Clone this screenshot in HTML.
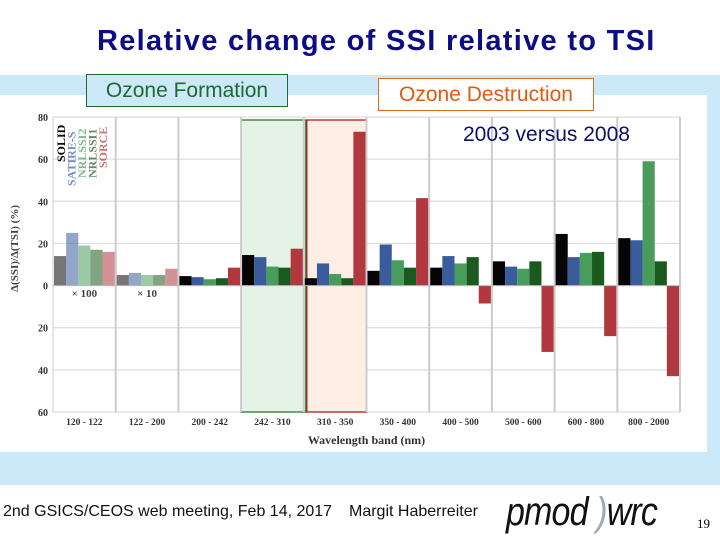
<!DOCTYPE html>
<html><head><meta charset="utf-8"><style>
body{margin:0;width:720px;height:540px;background:#fff;position:relative;overflow:hidden;font-family:"Liberation Sans",sans-serif}
.abs{position:absolute}
</style></head><body>
<div class="abs" style="left:0;top:75px;width:720px;height:410px;background:#cce9fa"></div>
<div class="abs" style="left:97px;top:25px;white-space:nowrap;font-size:29px;letter-spacing:1.3px;font-weight:bold;color:#0c0c84">Relative change of SSI relative to TSI</div>
<svg class="abs" style="left:0;top:0" width="720" height="540" id="chart"></svg>
<div class="abs" style="left:86px;top:74px;width:200px;height:31px;border:1px solid #1f6a2a;background:#cce9fa;color:#1f6a2a;font-size:21px;text-align:center;line-height:31px">Ozone Formation</div>
<div class="abs" style="left:378px;top:78px;width:214px;height:31px;border:1px solid #e06a20;background:#fff;color:#e05a10;font-size:21px;text-align:center;line-height:31px">Ozone Destruction</div>
<div class="abs" style="left:463px;top:123px;font-size:21px;color:#10106a">2003 versus 2008</div>
<div class="abs" style="left:3px;top:503px;font-size:16px;color:#111">2nd GSICS/CEOS web meeting, Feb 14, 2017</div>
<div class="abs" style="left:349px;top:503px;font-size:16px;color:#111">Margit Haberreiter</div>
<div class="abs" style="left:506px;top:490px;font-size:40px;font-style:italic;color:#111;letter-spacing:-1px;transform:scaleX(0.85);transform-origin:left">pmod <span style="color:#9ab">)</span>wrc</div>
<div class="abs" style="left:697px;top:516px;font-size:13px;font-family:'Liberation Serif',serif">19</div>
<script>
const categories=["120 - 122","122 - 200","200 - 242","242 - 310","310 - 350","350 - 400","400 - 500","500 - 600","600 - 800","800 - 2000"];
const seriesNames=["SOLID","SATIRE-S","NRLSSI2","NRLSSI1","SORCE"];
const solid=[14,5,4.5,14.5,3.5,7,8.5,11.5,24.5,22.5];
const satire=[25,6,4,13.5,10.5,19.5,14,9,13.5,21.5];
const nrl2=[19,5,3,9,5.5,12,10.5,8,15.5,59];
const nrl1=[17,5,3.5,8.5,3.5,8.5,13.5,11.5,16,11.5];
const sorce=[16,8,8.5,17.5,73,41.5,-8.5,-31.5,-24,-43];
const yTicks=[80,60,40,20,0,-20,-40,-60];
const yTickLabels=["80","60","40","20","0","20","40","60"];
const colors=["#050505","#3b5c9c","#4a9c5c","#1b5a1e","#b2383f"];
const NS="http://www.w3.org/2000/svg";
const svg=document.getElementById('chart');
const X0=53,X1=680,Y0=117,Y1=412;
const bw=(X1-X0)/categories.length;
function y(v){return Y0+(80-v)*(Y1-Y0)/140;}
function mk(t,a,p){const e=document.createElementNS(NS,t);for(const k in a)e.setAttribute(k,a[k]);(p||svg).appendChild(e);return e;}
let bg=mk('rect',{x:0,y:95,width:707,height:357,fill:'#fff'});


yTicks.forEach((t,i)=>{
 let g=mk('line',{x1:X0,x2:X1,y1:y(t),y2:y(t),stroke:'#ddd','stroke-width':1.2});
 
 
 let l=mk('text',{x:X0-5,y:y(t)+4,'text-anchor':'end','font-size':10,'font-family':'Liberation Serif, serif','font-weight':'bold',fill:'#333'});
 l.textContent=yTickLabels[i];
 
 
});
let hg=mk('rect',{x:X0+3*bw,y:120,width:bw+2,height:Y1-120,fill:'#e5f3e6',stroke:'#2a7a2e','stroke-width':1.3});


let hr=mk('rect',{x:X0+4*bw+3,y:120,width:bw-3,height:Y1-120,fill:'#fdeee6',stroke:'#b02020','stroke-width':1.3});


for(let i=0;i<=categories.length;i++){
 let s=mk('line',{x1:X0+i*bw,x2:X0+i*bw,y1:Y0,y2:Y1,stroke:'#ccc','stroke-width':i==0?1:2});
 
 
}
const series=[solid,satire,nrl2,nrl1,sorce];
const barW=(bw-2)/5;
categories.forEach((c,i)=>{
 series.forEach((vals,j)=>{
  const v=vals[i];
  let r=mk('rect',{x:X0+i*bw+1+j*barW,y:Math.min(y(v),y(0)),width:barW,height:Math.abs(y(v)-y(0)),fill:colors[j],opacity:i<2?0.55:1});
  
  
 });
 let t=mk('text',{x:X0+i*bw+bw/2,y:425,'text-anchor':'middle','font-size':9.5,'font-family':'Liberation Serif, serif','font-weight':'bold',fill:'#333'});
 t.textContent=c;
 
 
});
let ax=mk('line',{x1:X0,x2:X1,y1:y(0),y2:y(0),stroke:'#bbb','stroke-width':1});


[["× 100",X0+bw/2],["× 10",X0+1.5*bw]].forEach(a=>{
 let t=mk('text',{x:a[1],y:297,'text-anchor':'middle','font-size':11,'font-family':'Liberation Serif, serif','font-weight':'bold',fill:'#444'});
 t.textContent=a[0];
 
 
});
seriesNames.forEach((n,j)=>{
 let t=mk('text',{x:0,y:0,'font-size':12,'font-family':'Liberation Serif, serif','font-weight':'bold',fill:colors[j],opacity:j==0?1:0.7,transform:`translate(${X0+12+j*10.5},${j==1?186:(j==0?162:(j==4?168:178))}) rotate(-90)`});
 t.textContent=n;
 
 
});
let yt=mk('text',{x:0,y:0,'font-size':11,'font-family':'Liberation Serif, serif','font-weight':'bold',fill:'#444','text-anchor':'middle',transform:`translate(18,${y(20)+5}) rotate(-90)`});
yt.textContent="Δ(SSI)/Δ(TSI) (%)";


let xt=mk('text',{x:(X0+X1)/2,y:444,'text-anchor':'middle','font-size':12,'font-family':'Liberation Serif, serif','font-weight':'bold',fill:'#333'});
xt.textContent="Wavelength band (nm)";


</script>
</body></html>
